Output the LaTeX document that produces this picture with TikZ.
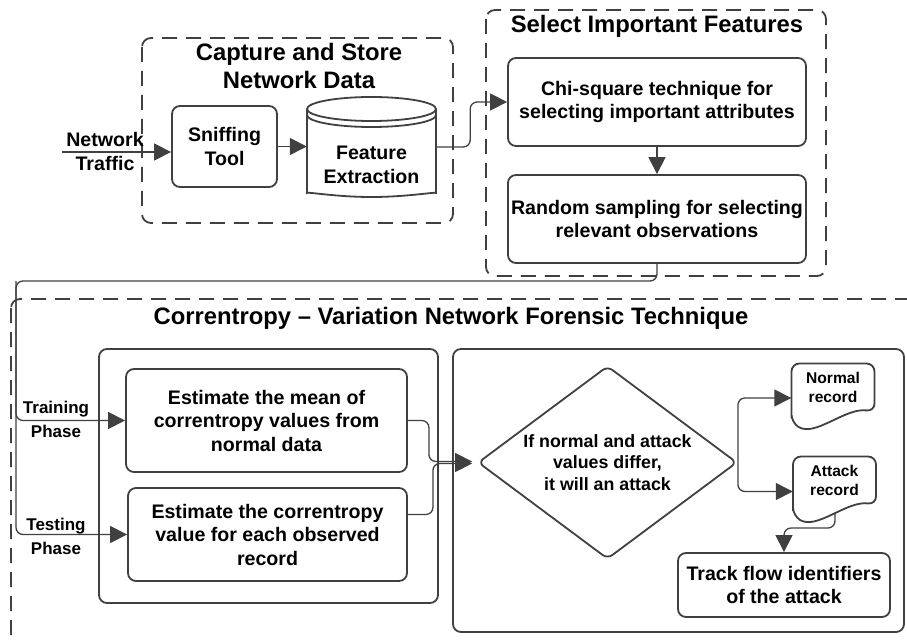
\documentclass[tikz,border=0pt]{standalone}
\usepackage{fontspec}
\setmainfont{Liberation Sans}
\usetikzlibrary{shapes.geometric,arrows.meta,calc}

\definecolor{dgray}{HTML}{404040}

% record outline (flat top, wavy bottom) round a node
\newcommand{\recshape}[1]{%
  \draw[box] ($(#1)+(-41.5,35)$) -- ($(#1)+(-41.5,-24)$) -- ($(#1)+(41.5,-24)$) -- ($(#1)+(41.5,24)$)
    .. controls ($(#1)+(12,20)$) and ($(#1)+(-18,50)$) .. ($(#1)+(-41.5,35)$) -- cycle;
}

\begin{document}
\begin{tikzpicture}[x=1pt,y=-1pt]
    \tikzset{group/.style = {draw=dgray, line width=1.8pt, dash pattern=on 15pt off 9pt, rounded corners=9pt},
        box/.style  = {draw=dgray, line width=1.8pt, rounded corners=8pt},
        cbox/.style = {box, align=center, font=\bodyfont, inner sep=2pt},
        ttl/.style  = {align=center, font=\ttlfont},
        lbl/.style  = {align=center, font=\lblfont},
        rtxt/.style = {align=center, font=\recfont, minimum width=83pt},
        dia/.style  = {draw=dgray, line width=1.8pt, diamond, aspect=1.34, inner sep=0pt,
            minimum width=259pt, minimum height=193pt, align=center, font=\diafont, rounded corners=6pt},
        arr/.style  = {draw=dgray, line width=1.3pt, rounded corners=7pt, -{Triangle[length=17pt,width=17pt]}}
        }

    \def\ttlfont{\fontsize{23.8}{28}\selectfont\bfseries}
    \def\bodyfont{\fontsize{19.6}{23.5}\selectfont\bfseries}
    \def\lblfont{\fontsize{17}{24}\selectfont\bfseries}
    \def\diafont{\fontsize{17.8}{21.5}\selectfont\bfseries}
    \def\recfont{\fontsize{15.6}{19}\selectfont\bfseries}

    \useasboundingbox (0,0) rectangle (907,644);

    % Draw the capture stage.
    \draw[group] (142,38) rectangle (453,223);
    \node[ttl] (captitle) at (299,66) {Capture and Store\\Network Data};
    \node[cbox, minimum width=105pt, minimum height=81pt] (snf) at (224.5,146.5) {Sniffing\\Tool};

    \node[minimum width=129pt, minimum height=100pt] (fe) at (371.5,147) {};
    \draw[box] (307,109) -- (307,185) arc[start angle=180, end angle=360, x radius=64.5pt, y radius=12pt] -- (436,109);
    \draw[box] (371.5,109) ellipse [x radius=64.5pt, y radius=12pt];
    \draw[box] (307,115) arc[start angle=180, end angle=360, x radius=64.5pt, y radius=12pt];
    \node[align=center, font=\bodyfont] (fetxt) at (371.5,165) {Feature\\Extraction};

    \coordinate (nt) at (62,152);
    \node[align=center, font=\bodyfont] (ntlbl) at (105,151.5) {Network\\Traffic};
    \draw[arr] (nt) -- (nt -| snf.west);
    \draw[arr] (snf.east) -- (snf.east -| fe.west);

    % Draw the feature selection stage.
    \draw[group] (486,10) rectangle (826,276);
    \node[ttl] (seltitle) at (657,26) {Select Important Features};
    \node[cbox, minimum width=298pt, minimum height=88pt] (chi) at (657,102) {Chi-square technique for\\selecting important attributes};
    \node[cbox, minimum width=298pt, minimum height=88pt] (rnd) at (657,219) {Random sampling for selecting\\relevant observations};

    \draw[arr] (fe.east) -- ++(34,0) |- (chi.west);
    \draw[arr] (chi.south) -- (rnd.north);

    % Draw the forensic stage.
    \begin{scope}
        \clip (0,0) rectangle (907,644);
        \draw[group] (11,299) rectangle (930,680);
    \end{scope}
    \node[ttl] (cortitle) at (451,318) {Correntropy – Variation Network Forensic Technique};
    \draw[box] (99,349) rectangle (438,603);
    \draw[box] (453,349) rectangle (904,632);

    \node[cbox, minimum width=281pt, minimum height=103pt] (mean) at (266.5,420.5) {Estimate the mean of\\correntropy values from\\normal data};
    \node[cbox, minimum width=279pt, minimum height=93pt] (corr) at (267.5,534.5) {Estimate the correntropy\\value for each observed\\record};

    \coordinate (split) at (16,281);
    \draw[arr] (rnd.south) |- (split) |- (mean.west);
    \draw[arr] (split) |- (corr.west);
    \node[lbl] (trn) at (56,419) {Training\\Phase};
    \node[lbl] (tst) at (56,536) {Testing\\Phase};

    \node[dia] (dec) at (607.5,462.5) {If normal and attack\\values differ,\\it will an attack};
    \draw[arr, shorten >=5pt] (mean.east) -- ++(21,0) |- ([yshift=1pt]dec.west);
    \draw[arr, shorten >=5pt] ([yshift=20pt]corr.east) -- ++(25,0) |- ([yshift=-1pt]dec.west);

    \node[rtxt] (nr) at (833,387.5) {Normal\\record};
    \recshape{nr}
    \node[rtxt] (ar) at (834.5,480.5) {Attack\\record};
    \recshape{ar}
    \draw[arr] (dec.east) |- ([yshift=-10.5pt]nr.west);
    \draw[arr] (dec.east) |- ([yshift=-11pt]ar.west);

    \node[cbox, minimum width=212pt, minimum height=64pt] (trk) at (784,585) {Track flow identifiers\\of the attack};
    \draw[arr] ($(ar)+(0.5,32)$) -- ++(0,15.5) -| (trk.north);
\end{tikzpicture}
\end{document}
